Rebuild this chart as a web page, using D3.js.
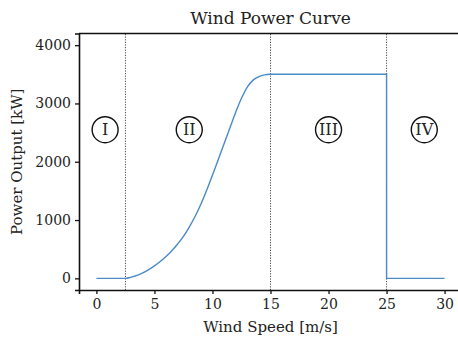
<!DOCTYPE html>
<html>
<head>
<meta charset="utf-8">
<script src="https://cdn.jsdelivr.net/npm/d3@7"></script>
<style>
  body { margin: 0; background: #fff; }
  svg text { font-family: "DejaVu Serif", serif; fill: #222; }
</style>
</head>
<body>
<div id="main"></div>
<script>
// wind speed [m/s] and power [kW]
const windSpeed = [0, 2.5, 3, 3.5, 4, 4.5, 5, 5.5, 6, 6.5, 7, 7.5, 8, 8.5, 9, 9.5, 10,
    10.5, 11, 11.5, 12, 12.5, 13, 13.5, 14, 14.5, 15, 25, 25, 30];
const power = [0, 0, 20, 50, 95, 150, 215, 290, 375, 475, 590, 720, 880, 1060, 1270, 1510, 1770,
    2040, 2310, 2580, 2850, 3090, 3280, 3400, 3460, 3490, 3500, 3500, 0, 0];

const regionBounds = [2.5, 15, 25];
const regionLabels = ['I', 'II', 'III', 'IV'];
const regionLabelX = [0.75, 8, 20, 28.25];
const regionLabelY = 2550;

const xTicks = [0, 5, 10, 15, 20, 25, 30];
const yTicks = [0, 1000, 2000, 3000, 4000];

const width = 458, height = 341;
const margin = {top: 33.5, right: -4, bottom: 51, left: 79};
const serif = '"DejaVu Serif", serif';

const svg = d3.select('#main').append('svg')
    .attr('width', width)
    .attr('height', height);

const x = d3.scaleLinear()
    .domain([-1.5, 31.5])
    .range([margin.left, width - margin.right]);
const y = d3.scaleLinear()
    .domain([-200, 4200])
    .range([height - margin.bottom, margin.top]);

// region boundaries
svg.append('g')
    .selectAll('line')
    .data(regionBounds)
    .enter()
    .append('line')
    .attr('x1', (d) => x(d))
    .attr('x2', (d) => x(d))
    .attr('y1', y(-200))
    .attr('y2', y(4200))
    .attr('stroke', '#333')
    .attr('stroke-width', 0.9)
    .attr('stroke-dasharray', '1.2,1.4');

// power curve: smooth ramp up to rated speed, then plateau and cut-out
const points = windSpeed.map((w, i) => [w, power[i]]);
const rated = windSpeed.indexOf(15);

const rampLine = d3.line()
    .x((d) => x(d[0]))
    .y((d) => y(d[1]))
    .curve(d3.curveMonotoneX);
const tailLine = d3.line()
    .x((d) => x(d[0]))
    .y((d) => y(d[1]));

svg.append('path')
    .datum(points.slice(0, rated + 1))
    .attr('fill', 'none')
    .attr('stroke', '#4a8bc6')
    .attr('stroke-width', 1.4)
    .attr('d', rampLine);
svg.append('path')
    .datum(points.slice(rated))
    .attr('fill', 'none')
    .attr('stroke', '#4a8bc6')
    .attr('stroke-width', 1.4)
    .attr('d', tailLine);

// circled region labels
const labels = svg.append('g')
    .selectAll('g')
    .data(regionLabels)
    .enter()
    .append('g')
    .attr('transform', (d, i) => `translate(${x(regionLabelX[i])}, ${y(regionLabelY)})`);
labels.append('circle')
    .attr('r', 13)
    .attr('fill', 'none')
    .attr('stroke', '#111')
    .attr('stroke-width', 1.4);
labels.append('text')
    .attr('text-anchor', 'middle')
    .attr('dy', '0.36em')
    .attr('font-size', 16)
    .text((d) => d);

// axes
const xAxis = svg.append('g')
    .attr('transform', `translate(0, ${height - margin.bottom})`)
    .call(d3.axisBottom(x).tickValues(xTicks).tickFormat(d3.format('d')).tickSize(4).tickPadding(5));
const yAxis = svg.append('g')
    .attr('transform', `translate(${margin.left}, 0)`)
    .call(d3.axisLeft(y).tickValues(yTicks).tickFormat(d3.format('d')).tickSize(4).tickPadding(4));

[xAxis, yAxis].forEach((ax) => {
    ax.attr('font-family', serif).attr('font-size', 14);
    ax.select('.domain').attr('stroke', '#111').attr('stroke-width', 1.6);
    ax.selectAll('.tick line').attr('stroke', '#111').attr('stroke-width', 1.3);
    ax.selectAll('.tick text').attr('fill', '#222');
});

// top spine
svg.append('line')
    .attr('x1', margin.left)
    .attr('x2', width)
    .attr('y1', margin.top)
    .attr('y2', margin.top)
    .attr('stroke', '#111')
    .attr('stroke-width', 1.6);

svg.append('text')
    .attr('x', x(15))
    .attr('y', 24)
    .attr('text-anchor', 'middle')
    .attr('font-size', 17)
    .text('Wind Power Curve');

svg.append('text')
    .attr('x', x(15))
    .attr('y', 332)
    .attr('text-anchor', 'middle')
    .attr('font-size', 15)
    .text('Wind Speed [m/s]');

svg.append('text')
    .attr('transform', `translate(22, ${(margin.top + height - margin.bottom) / 2}) rotate(-90)`)
    .attr('text-anchor', 'middle')
    .attr('font-size', 15)
    .text('Power Output [kW]');
</script>
</body>
</html>
